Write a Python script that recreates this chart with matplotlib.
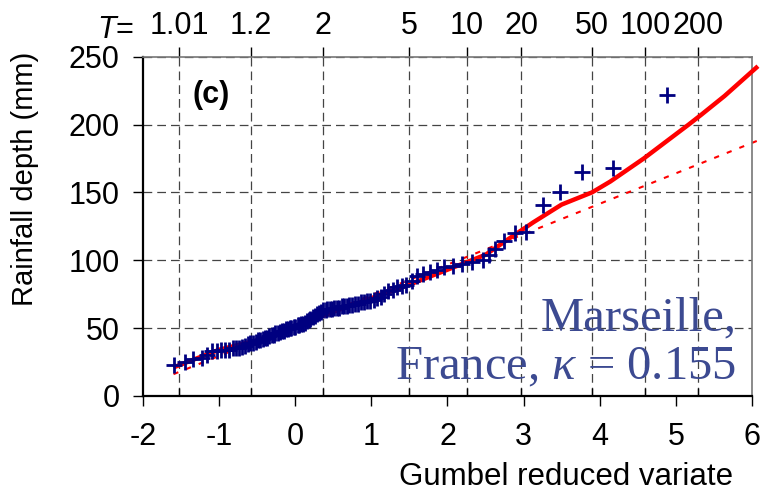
import numpy as np
import matplotlib.pyplot as plt

plt.rcParams['font.family'] = ['Liberation Sans', 'DejaVu Sans']
plt.rcParams['axes.unicode_minus'] = False
plt.rcParams['mathtext.fontset'] = 'custom'
plt.rcParams['mathtext.it'] = 'Liberation Serif:italic'
plt.rcParams['mathtext.rm'] = 'Liberation Serif'

# return periods on the top axis
T_values = [1.01, 1.2, 2, 5, 10, 20, 50, 100, 200]
T_labels = ["1.01", "1.2", "2", "5", "10", "20", "50", "100", "200"]

# observed annual maxima: Gumbel reduced variate vs rainfall depth (mm)
obs_u = [-1.60, -1.45, -1.34, -1.23, -1.16, -1.10, -1.03, -0.97, -0.92, -0.87,
         -0.82, -0.78, -0.74, -0.70, -0.66, -0.62, -0.59, -0.55, -0.52, -0.49,
         -0.46, -0.43, -0.40, -0.37, -0.34, -0.31, -0.28, -0.26, -0.23, -0.20,
         -0.18, -0.15, -0.12, -0.10, -0.07, -0.05, -0.02, 0.00, 0.03, 0.05,
         0.08, 0.10, 0.13, 0.15, 0.18, 0.20, 0.23, 0.26, 0.28, 0.31,
         0.34, 0.37, 0.40, 0.42, 0.45, 0.48, 0.51, 0.55, 0.58, 0.61,
         0.64, 0.68, 0.71, 0.75, 0.78, 0.82, 0.86, 0.90, 0.94, 0.98,
         1.03, 1.07, 1.12, 1.17, 1.22, 1.28, 1.34, 1.40, 1.46, 1.53,
         1.60, 1.68, 1.77, 1.86, 1.96, 2.07, 2.19, 2.32, 2.47, 2.55,
         2.63, 2.74, 2.89, 3.03, 3.25, 3.48, 3.77, 4.18, 4.88]
obs_depth = [23, 25, 27, 28, 30, 33, 33, 34, 34, 34,
             35, 35, 35, 36, 37, 38, 39, 39, 40, 41,
             41, 42, 43, 43, 44, 45, 45, 46, 46, 47,
             48, 48, 49, 49, 50, 50, 51, 51, 52, 52,
             53, 53, 54, 55, 56, 57, 58, 59, 60, 61,
             62, 63, 63, 64, 64, 64, 65, 65, 65, 66,
             66, 66, 67, 67, 68, 68, 69, 69, 70, 70,
             71, 72, 73, 75, 77, 78, 80, 81, 82, 85,
             88, 90, 91, 93, 95, 96, 97, 99, 100, 104,
             108, 114, 120, 121, 141, 150, 165, 168, 222]

# fitted distribution (solid red)
fit_u = [-1.6, -1.0, -0.5, 0.0, 0.5, 1.0, 1.5, 2.0, 2.5, 2.785, 3.13, 3.5,
         3.9, 4.14, 4.58, 5.17, 5.33, 5.64, 6.08]
fit_depth = [21, 34, 41, 51, 62, 72, 82, 93, 104, 115, 128, 141,
             150, 158, 175, 200, 207, 221, 243]

# Gumbel line (dotted red)
gumbel_u = [-1.6, 6.07]
gumbel_depth = [16, 188]

navy = '#000080'
label_color = '#3c4a91'
fs = 22

fig = plt.figure(figsize=(7.61, 4.93), dpi=100)
ax = fig.add_axes([0.188, 0.197, 0.800, 0.688])

ax.plot(gumbel_u, gumbel_depth, color='red', lw=1.5, dashes=(2.5, 4),
        zorder=2, clip_on=False)
ax.plot(fit_u, fit_depth, color='red', lw=3.2, zorder=3, clip_on=False,
        solid_capstyle='butt')
ax.plot(obs_u, obs_depth, ls='none', marker='+', ms=12, mew=2,
        color=navy, zorder=4, clip_on=False)

ax.set_xlim(-2, 6)
ax.set_ylim(0, 250)
ax.set_xticks(range(-2, 7))
ax.set_yticks(range(0, 251, 50))

# gridlines at the return periods (Gumbel reduced variate of T)
T_pos = [-np.log(-np.log(1 - 1 / t)) for t in T_values]
ax.set_xticks(T_pos, minor=True)
ax.grid(axis='x', which='minor', ls=(0, (7, 4)), color='#444444', lw=0.9)
ax.grid(axis='y', which='major', ls=(0, (7, 4)), color='#444444', lw=0.9)
ax.grid(axis='x', which='major', visible=False)
ax.set_axisbelow(True)

ax.tick_params(axis='both', which='major', direction='out', length=7,
               width=1, labelsize=fs, pad=12)
ax.tick_params(axis='y', pad=10)
ax.tick_params(axis='x', which='minor', direction='in', length=6, width=1)

for side in ['left', 'bottom']:
    ax.spines[side].set_linewidth(1.6)
for side in ['top', 'right']:
    ax.spines[side].set_color('#777777')
    ax.spines[side].set_linewidth(1.2)

top = ax.secondary_xaxis('top')
top.set_xticks(T_pos)
top.set_xticklabels(T_labels)
top.tick_params(direction='out', length=7, width=1, labelsize=fs, pad=4)
top.spines['top'].set_visible(False)
ax.text(-0.045, 1.0335, 'T', transform=ax.transAxes, fontsize=fs,
        style='italic', ha='right', va='bottom')
ax.text(-0.045, 1.0335, '=', transform=ax.transAxes, fontsize=fs,
        ha='left', va='bottom')

ax.set_ylabel('Rainfall depth (mm)', fontsize=21, va='center')
ax.yaxis.set_label_coords(-0.194, 0.64)
ax.set_xlabel('Gumbel reduced variate', fontsize=22.5, ha='right',
              va='center')
ax.xaxis.set_label_coords(0.969, -0.239)

ax.text(-1.10, 222, '(c)', fontsize=22, fontweight='bold', ha='center',
        va='center')
ax.text(0.975, 0.047, 'Marseille,\nFrance, $\\kappa$ = 0.155',
        transform=ax.transAxes, ha='right', va='baseline',
        multialignment='right', fontsize=35, color=label_color,
        family='Liberation Serif', linespacing=1.15)

fig.savefig('out.png', dpi=100)
